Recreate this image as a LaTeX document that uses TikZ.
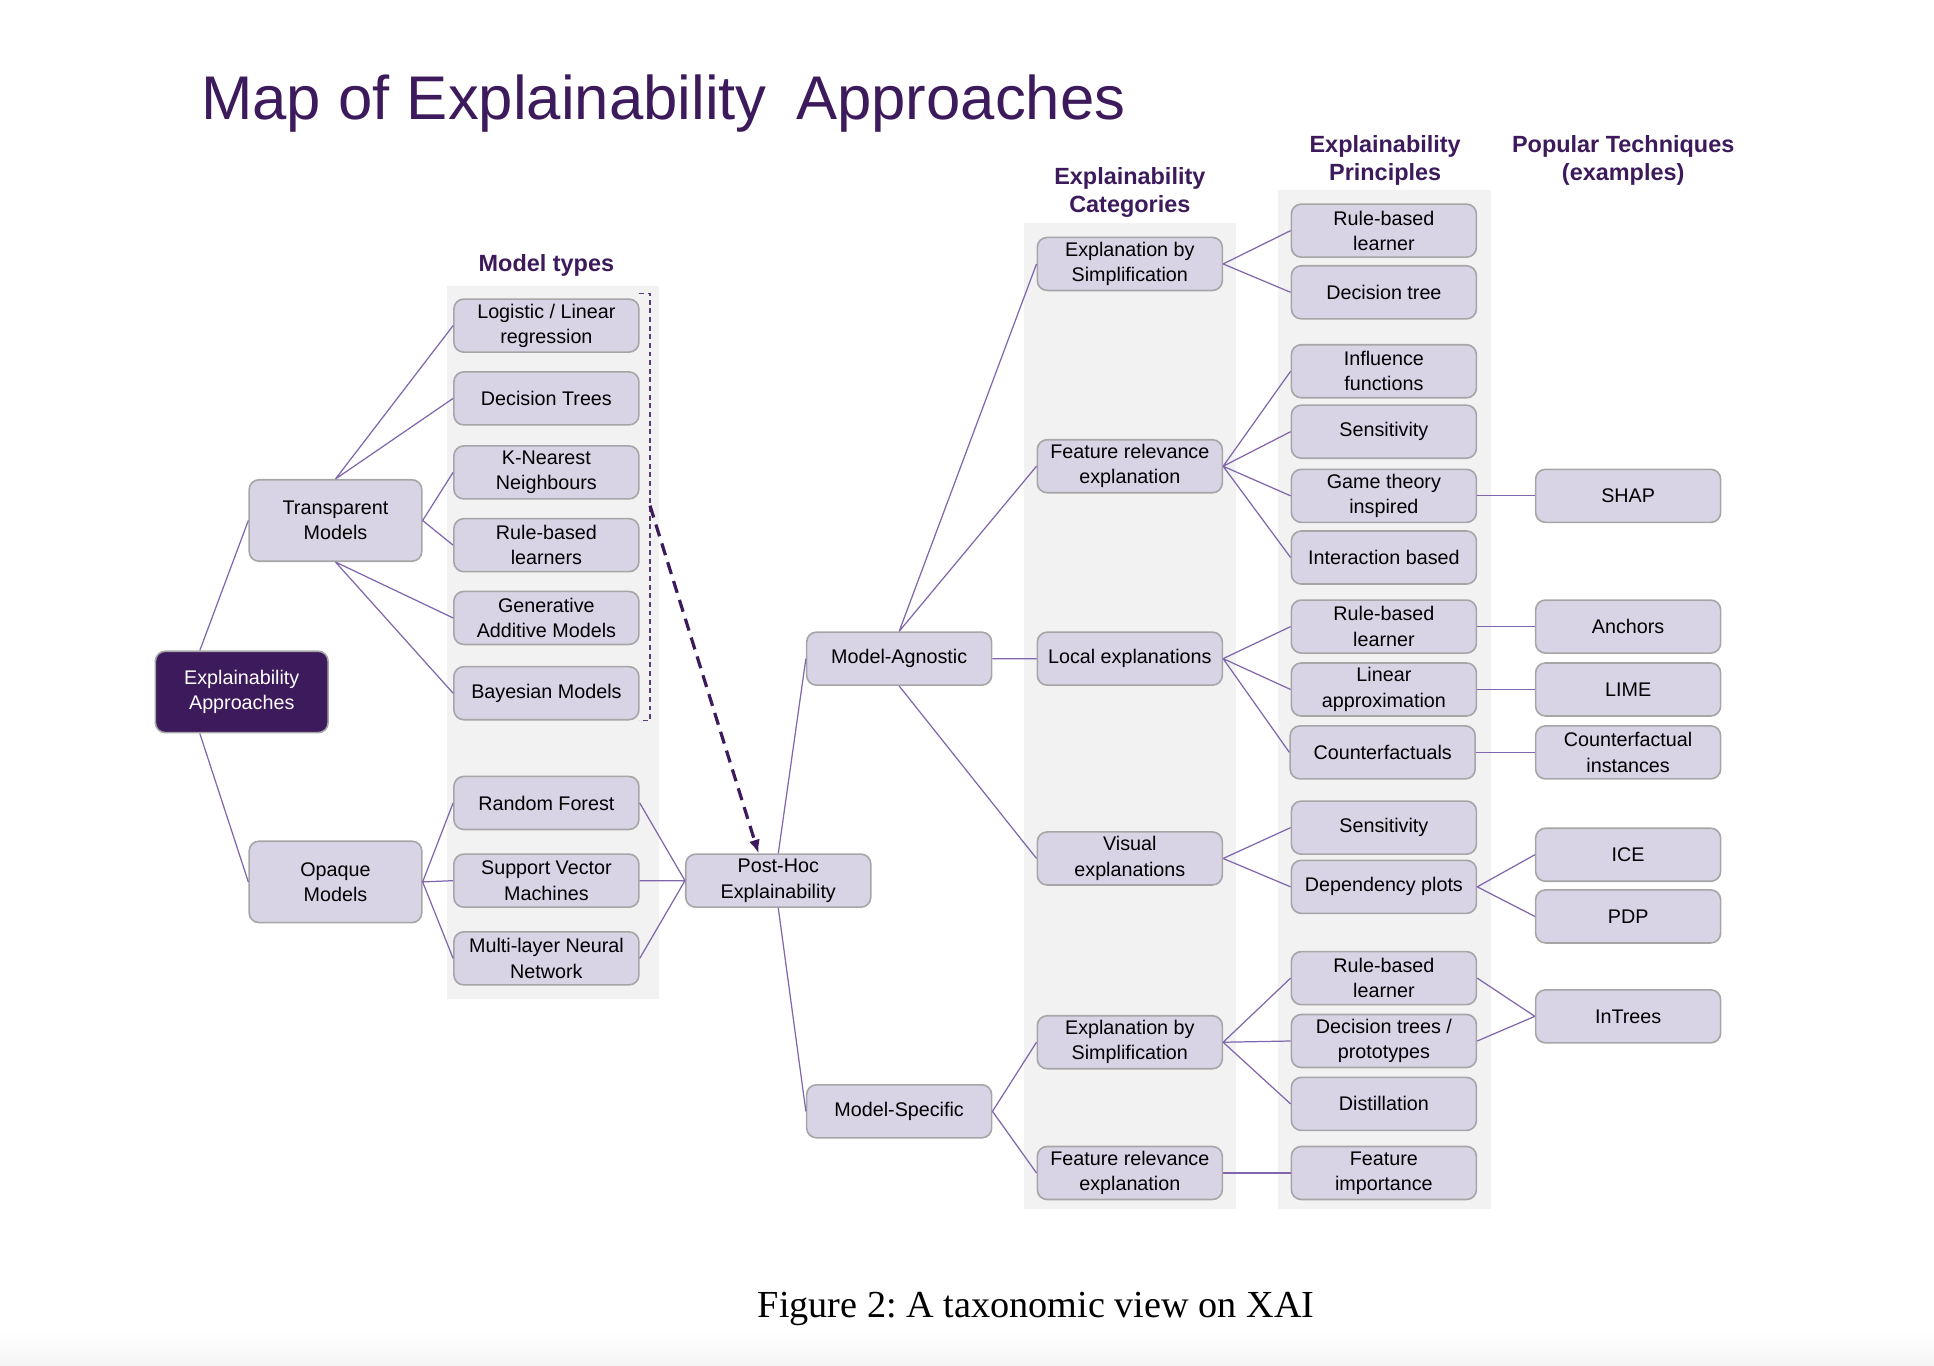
\documentclass[tikz,border=0pt]{standalone}
\usepackage{fontspec}
\setmainfont{Liberation Sans}
\newfontfamily\capfont{Liberation Serif}
\usetikzlibrary{arrows.meta}
\definecolor{xaipurple}{HTML}{3D1A5B}
\definecolor{boxfill}{HTML}{D9D3E6}
\definecolor{boxline}{HTML}{A6A6A6}
\definecolor{linkline}{HTML}{8066AD}
\definecolor{colbg}{HTML}{F2F2F2}

\begin{document}
\begin{tikzpicture}[x=1pt,y=-1pt,
    box/.style={draw=boxline,line width=1.3pt,fill=boxfill,rounded corners=8pt,
      minimum width=150pt,minimum height=43pt,align=center,inner sep=2pt,
      font=\fontsize{16}{20.5}\selectfont},
    bigbox/.style={box,minimum width=140pt,minimum height=66pt},
    head/.style={align=center,text=xaipurple,font=\fontsize{19}{23}\selectfont\bfseries},
    link/.style={draw=linkline,line width=1pt}]
  \useasboundingbox (0,0) rectangle (1568,1107);
  \shade[top color=white,bottom color=black!4] (0,1080) rectangle (1568,1107);

  % grey column backgrounds
  \fill[colbg] (362,232) rectangle (534,810);
  \fill[colbg] (830,181) rectangle (1002,980);
  \fill[colbg] (1036,154) rectangle (1209,980);

  \node[anchor=base west,inner sep=0pt,text=xaipurple,font=\fontsize{50}{60}\selectfont]
    (title) at (163,97) {Map of Explainability\hspace{0.2em} Approaches};

  % column headers
  \node[head] (hmt) at (443,215) {Model types};
  \node[head] (hcat) at (916,156) {Explainability\\Categories};
  \node[head] (hpri) at (1123,130) {Explainability\\Principles};
  \node[head] (htec) at (1316,130) {Popular Techniques\\(examples)};

  % left part
  \node[bigbox,fill=xaipurple,text=white] (EA) at (196,561) {Explainability\\Approaches};
  \node[bigbox] (TM) at (272,422) {Transparent\\Models};
  \node[bigbox] (OM) at (272,715) {Opaque\\Models};

  % model types
  \node[box] (LR) at (443,264) {Logistic / Linear\\regression};
  \node[box] (DT) at (443,323) {Decision Trees};
  \node[box] (KNN) at (443,383) {K-Nearest\\Neighbours};
  \node[box] (RB) at (443,442) {Rule-based\\learners};
  \node[box] (GAM) at (443,501) {Generative\\Additive Models};
  \node[box] (BM) at (443,562) {Bayesian Models};
  \node[box] (RF) at (443,651) {Random Forest};
  \node[box] (SVM) at (443,714) {Support Vector\\Machines};
  \node[box] (MLP) at (443,777) {Multi-layer Neural\\Network};

  \node[box] (PH) at (631,714) {Post-Hoc\\Explainability};
  \node[box] (MA) at (729,534) {Model-Agnostic};
  \node[box] (MS) at (729,901) {Model-Specific};

  % categories
  \node[box] (C1) at (916,214) {Explanation by\\Simplification};
  \node[box] (C2) at (916,378) {Feature relevance\\explanation};
  \node[box] (C3) at (916,534) {Local explanations};
  \node[box] (C4) at (916,696) {Visual\\explanations};
  \node[box] (C5) at (916,845) {Explanation by\\Simplification};
  \node[box] (C6) at (916,951) {Feature relevance\\explanation};

  % principles
  \node[box] (P1) at (1122,187) {Rule-based\\learner};
  \node[box] (P2) at (1122,237) {Decision tree};
  \node[box] (P3) at (1122,301) {Influence\\functions};
  \node[box] (P4) at (1122,350) {Sensitivity};
  \node[box] (P5) at (1122,402) {Game theory\\inspired};
  \node[box] (P6) at (1122,452) {Interaction based};
  \node[box] (P7) at (1122,508) {Rule-based\\learner};
  \node[box] (P8) at (1122,559) {Linear\\approximation};
  \node[box] (P9) at (1121,610) {Counterfactuals};
  \node[box] (P10) at (1122,671) {Sensitivity};
  \node[box] (P11) at (1122,719) {Dependency plots};
  \node[box] (P12) at (1122,793) {Rule-based\\learner};
  \node[box] (P13) at (1122,844) {Decision trees /\\prototypes};
  \node[box] (P14) at (1122,895) {Distillation};
  \node[box] (P15) at (1122,951) {Feature\\importance};

  % techniques
  \node[box] (T1) at (1320,402) {SHAP};
  \node[box] (T2) at (1320,508) {Anchors};
  \node[box] (T3) at (1320,559) {LIME};
  \node[box] (T4) at (1320,610) {Counterfactual\\instances};
  \node[box] (T5) at (1320,693) {ICE};
  \node[box] (T6) at (1320,743) {PDP};
  \node[box] (T7) at (1320,824) {InTrees};

  % links
  \draw[link] ([xshift=-34pt]EA.north) -- (TM.west);
  \draw[link] ([xshift=-34pt]EA.south) -- (OM.west);
  \draw[link] (TM.north) -- (LR.west) (TM.north) -- (DT.west);
  \draw[link] (TM.east) -- (KNN.west) (TM.east) -- (RB.west);
  \draw[link] (TM.south) -- (GAM.west) (TM.south) -- (BM.west);
  \draw[link] (OM.east) -- (RF.west) (OM.east) -- (SVM.west) (OM.east) -- (MLP.west);
  \draw[link] (RF.east) -- (PH.west) (SVM.east) -- (PH.west) (MLP.east) -- (PH.west);
  \draw[link] (PH.north) -- (MA.west) (PH.south) -- (MS.west);
  \draw[link] (MA.north) -- (C1.west) (MA.north) -- (C2.west);
  \draw[link] (MA.east) -- (C3.west) (MA.south) -- (C4.west);
  \draw[link] (MS.east) -- (C5.west) (MS.east) -- (C6.west);
  \draw[link] (C1.east) -- (P1.west) (C1.east) -- (P2.west);
  \draw[link] (C2.east) -- (P3.west) (C2.east) -- (P4.west)
              (C2.east) -- (P5.west) (C2.east) -- (P6.west);
  \draw[link] (C3.east) -- (P7.west) (C3.east) -- (P8.west) (C3.east) -- (P9.west);
  \draw[link] (C4.east) -- (P10.west) (C4.east) -- (P11.west);
  \draw[link] (C5.east) -- (P12.west) (C5.east) -- (P13.west) (C5.east) -- (P14.west);
  \draw[link] (C6.east) -- (P15.west);
  \draw[link] (P5.east) -- (T1.west);
  \draw[link] (P7.east) -- (T2.west) (P8.east) -- (T3.west) (P9.east) -- (T4.west);
  \draw[link] (P11.east) -- (T5.west) (P11.east) -- (T6.west);
  \draw[link] (P12.east) -- (T7.west) (P13.east) -- (T7.west);

  % bracket round the transparent models and the dashed arrow
  \draw[xaipurple!85,line width=1pt,dash pattern=on 4pt off 3pt]
    (518,238) -- (527,238) -- (527,584) -- (518,584);
  \coordinate (brk) at (527,410);
  \draw[xaipurple,line width=2.6pt,dash pattern=on 10pt off 6pt,
    -{Latex[length=11pt,width=9pt]}] (brk) -- ([xshift=-16pt]PH.north);

  \node[anchor=base,inner sep=0pt,font=\capfont\fontsize{31}{37}\selectfont]
    (caption) at (840,1068) {Figure 2:\ A taxonomic view on XAI};
\end{tikzpicture}
\end{document}
